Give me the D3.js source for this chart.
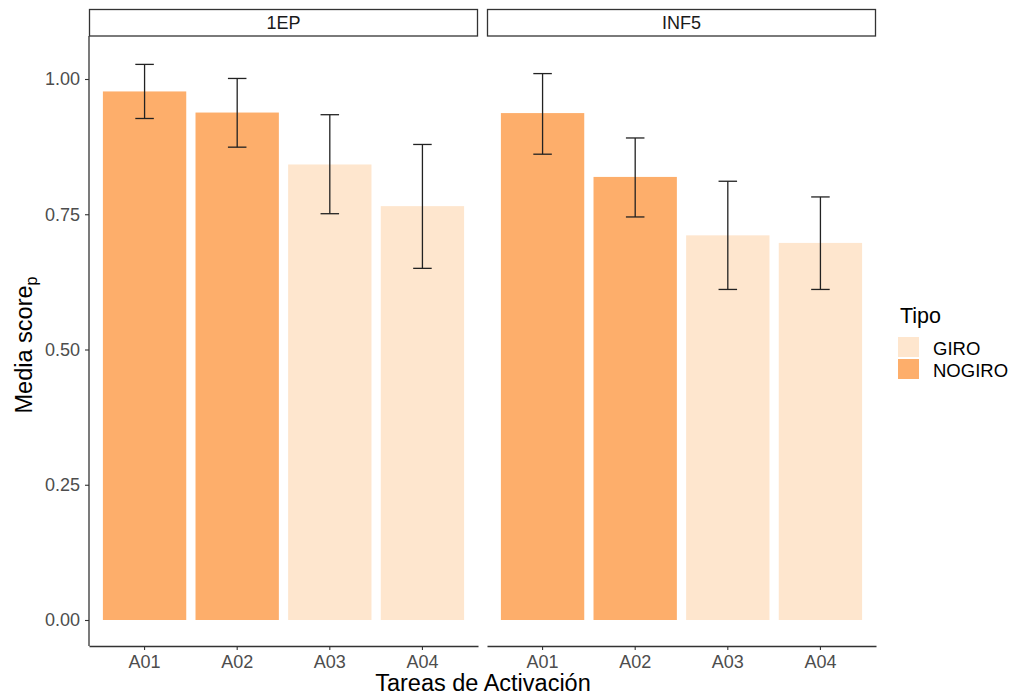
<!DOCTYPE html>
<html><head><meta charset="utf-8">
<script src="https://cdn.jsdelivr.net/npm/d3@7"></script>
<style>body{margin:0;background:#fff;} text{font-family:"Liberation Sans",Arial,sans-serif;}</style>
</head><body>
<svg id="chart" width="1017" height="697"></svg>
<script>
const facets = ["1EP", "INF5"];
const tasks = ["A01", "A02", "A03", "A04"];
const tipo1EP = ["NOGIRO", "NOGIRO", "GIRO", "GIRO"];
const tipoINF5 = ["NOGIRO", "NOGIRO", "GIRO", "GIRO"];
const mean1EP = [0.977, 0.938, 0.842, 0.765];
const lo1EP = [0.927, 0.874, 0.751, 0.650];
const hi1EP = [1.027, 1.001, 0.934, 0.879];
const meanINF5 = [0.937, 0.819, 0.711, 0.697];
const loINF5 = [0.861, 0.745, 0.611, 0.611];
const hiINF5 = [1.010, 0.891, 0.811, 0.782];
const yTicks = [0, 0.25, 0.5, 0.75, 1.0];
const legendKeys = ["GIRO", "NOGIRO"];

const FONT = "Liberation Sans, Arial, sans-serif";
const color = d3.scaleOrdinal().domain(legendKeys).range(["#FEE6CE", "#FDAE6B"]);
const svg = d3.select("#chart");
const panelTop = 36, panelBottom = 646;
const y = d3.scaleLinear().domain([0, 1]).range([620, 79]);
const panels = [
  {name: facets[0], x0: 89, x1: 478, mean: mean1EP, lo: lo1EP, hi: hi1EP, tipo: tipo1EP},
  {name: facets[1], x0: 487, x1: 876, mean: meanINF5, lo: loINF5, hi: hiINF5, tipo: tipoINF5}
];
const axisCol = "#333333", tickTextCol = "#4D4D4D";

panels.forEach((p, pi) => {
  const x = d3.scaleBand().domain(tasks).range([p.x0, p.x1]).paddingInner(0.1).paddingOuter(0.15);
  const step = x.step();
  const g = svg.append("g");
  // strip
  g.append("rect").attr("x", p.x0 + 0.5).attr("y", 9.5).attr("width", p.x1 - p.x0 - 1).attr("height", 26.5)
    .attr("fill", "#fff").attr("stroke", "#333").attr("stroke-width", 1.3);
  g.append("text").attr("x", (p.x0 + p.x1) / 2).attr("y", 29).attr("text-anchor", "middle")
    .attr("font-size", 18).attr("fill", "#1A1A1A").text(p.name);
  const data = tasks.map((t, i) => ({t, m: p.mean[i], lo: p.lo[i], hi: p.hi[i], tipo: p.tipo[i]}));
  g.selectAll("rect.bar").data(data).enter().append("rect").attr("class", "bar")
    .attr("x", d => x(d.t)).attr("width", x.bandwidth())
    .attr("y", d => y(d.m)).attr("height", d => y(0) - y(d.m))
    .attr("fill", d => color(d.tipo));
  const cap = step * 0.1;
  const cx = d => x(d.t) + x.bandwidth() / 2;
  const eb = g.selectAll("g.eb").data(data).enter().append("g").attr("stroke", "#222").attr("stroke-width", 1.3);
  eb.append("line").attr("x1", cx).attr("x2", cx)
    .attr("y1", d => y(d.lo)).attr("y2", d => y(d.hi));
  eb.append("line").attr("x1", d => cx(d) - cap).attr("x2", d => cx(d) + cap)
    .attr("y1", d => y(d.lo)).attr("y2", d => y(d.lo));
  eb.append("line").attr("x1", d => cx(d) - cap).attr("x2", d => cx(d) + cap)
    .attr("y1", d => y(d.hi)).attr("y2", d => y(d.hi));
  // x axis
  const xa = g.append("g").attr("transform", `translate(0,${panelBottom})`)
    .call(d3.axisBottom(x).tickSize(4).tickSizeOuter(0).tickPadding(5));
  xa.select(".domain").attr("stroke", axisCol).attr("stroke-width", 1.3);
  xa.selectAll(".tick line").attr("stroke", axisCol).attr("stroke-width", 1.1);
  xa.selectAll(".tick text").attr("font-size", 18).attr("fill", tickTextCol).attr("font-family", FONT);
  if (pi === 0) {
    const ya = g.append("g").attr("transform", `translate(${p.x0},0)`)
      .call(d3.axisLeft(y).tickValues(yTicks).tickFormat(d3.format(".2f")).tickSize(4).tickSizeOuter(0).tickPadding(5));
    ya.select(".domain").attr("d", `M0,${panelTop}V${panelBottom}`).attr("stroke", axisCol).attr("stroke-width", 1.3);
    ya.selectAll(".tick line").attr("stroke", axisCol).attr("stroke-width", 1.1);
    ya.selectAll(".tick text").attr("font-size", 18).attr("fill", tickTextCol).attr("font-family", FONT);
  }
});
// axis titles
svg.append("text").attr("x", 483).attr("y", 691).attr("text-anchor", "middle").attr("font-size", 23.5).attr("fill", "#000").text("Tareas de Activación");
const yt = svg.append("text").attr("transform", "translate(32,345) rotate(-90)").attr("text-anchor", "middle").attr("font-size", 23.5).attr("fill", "#000");
yt.append("tspan").text("Media score");
yt.append("tspan").attr("font-size", 16).attr("dy", 5).text("p");
// legend
svg.append("text").attr("x", 900).attr("y", 323).attr("font-size", 21.5).attr("fill", "#000").text("Tipo");
const lg = svg.selectAll("g.lg").data(legendKeys).enter().append("g").attr("transform", (d, i) => `translate(898,${337 + i * 22})`);
lg.append("rect").attr("width", 21).attr("height", 20).attr("fill", d => color(d));
lg.append("text").attr("x", 35).attr("y", 18).attr("font-size", 18.5).attr("fill", "#000").text(d => d);
</script>
</body></html>
